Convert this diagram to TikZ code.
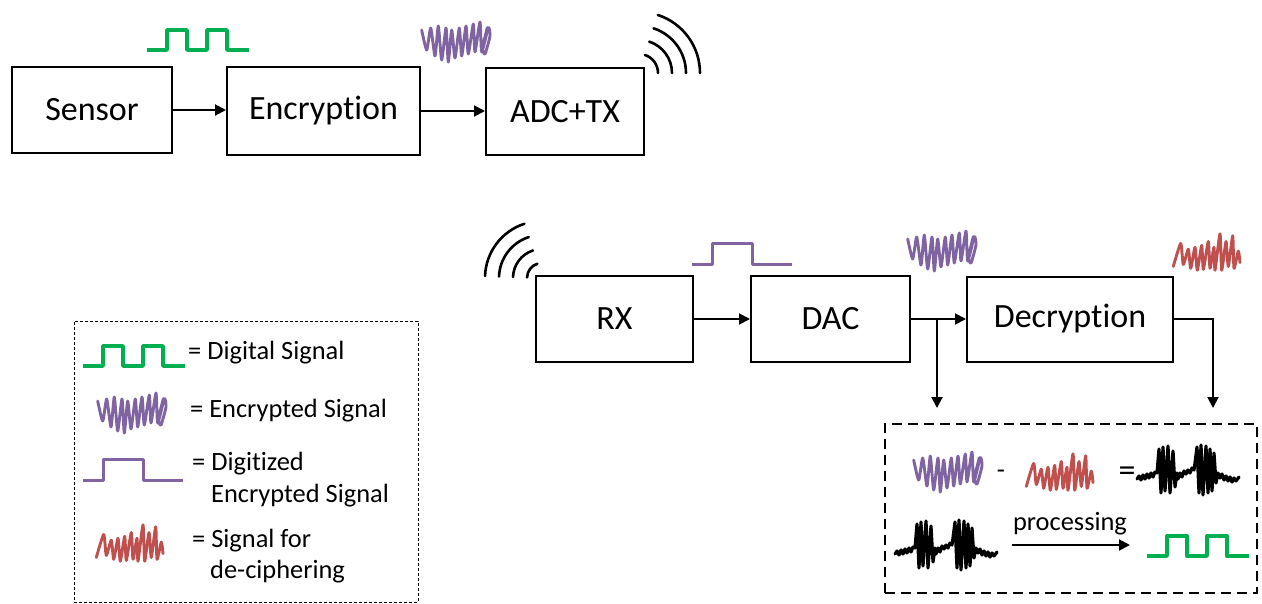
\documentclass[tikz,border=0pt]{standalone}
\usepackage{fontspec}
\setmainfont[Ligatures={NoCommon}]{Carlito}
\usetikzlibrary{arrows.meta}

\definecolor{sigGreen}{RGB}{0,176,80}
\definecolor{sigPurple}{RGB}{128,100,162}
\definecolor{sigRed}{RGB}{192,80,77}

\tikzset{
  blk/.style={draw, line width=2pt, inner sep=0pt, font=\fontsize{34}{40}\selectfont},
  conn/.style={line width=2pt, -{Triangle[length=11pt,width=11pt]}},
  lbl/.style={inner sep=0pt, anchor=base west, font=\fontsize{26.4}{30}\selectfont},
  radio/.style={line width=2.6pt, line cap=round},
  scrib/.style={line width=2.9pt, line cap=round, line join=round},
  % square-wave digital signal
  digsig/.pic={
    \draw[sigGreen, line width=3.4pt, line join=round]
      (0,20) -- (20,20) -- (20,0) -- (40,0) -- (40,20) -- (60,20)
      -- (60,0) -- (80,0) -- (80,20) -- (102,20);
  },
  % digitized encrypted signal
  digenc/.pic={
    \draw[sigPurple, line width=3pt, line join=round]
      (0,21) -- (20,21) -- (20,0) -- (60,0) -- (60,21) -- (100,21);
  },
  % encrypted signal scribble
  encsig/.pic={
    \draw[sigPurple, scrib, yscale=1.2] plot[smooth, tension=0.35] coordinates {
      (1.7,10) (6.7,26.7) (10.7,8.3) (15,31.7) (18.3,6.7) (21.7,35)
      (26,8.3) (28.3,36.7) (31.7,10) (35,33.3) (39.3,8.3) (41.7,31.7)
      (46,6.7) (48.3,30) (53.3,5) (55,28.3) (60,3.3) (61.7,28.3)
      (68.3,8) (70,15) (65,30) (62.5,25) (67.3,8)};
  },
  % signal used for deciphering
  keysig/.pic={
    \draw[sigRed, scrib, yscale=1.15] plot[smooth, tension=0.35] coordinates {
      (1.3,31.7) (8.7,11.7) (11.3,30) (16.3,16.7) (18.7,33.3) (23,15)
      (25.3,35) (29.7,13.3) (31.3,34.3) (36.3,10) (38,33.3) (42,15)
      (43,35) (48,3.3) (49.7,35) (54,10) (56.3,31.7) (60.7,5)
      (62,33.3) (66.3,18.3) (68,28.3)};
  },
  % recovered noisy signal: noise with two bursts
  rawsig/.pic={
    \draw[black, line width=3.2pt, line cap=round, line join=round] plot coordinates {
      (0,36) (2,33) (4,37) (6,32) (8,36) (10,31) (12,35) (14,30) (16,34)
      (18,29) (20,30)
      (22,6) (24,50) (26,4) (28,48) (31,3) (33,50) (36,8) (38,44) (40,30) (41,36)
      (43,30) (45,34) (47,28) (49,31) (51,27) (53,30) (55,25) (57,27)
      (58,20) (60,4) (62,50) (64,2) (66,52) (69,3) (71,50) (73,6) (75,48)
      (77,10) (79,40) (81,30)
      (83,35) (85,31) (87,37) (89,33) (91,38) (93,34) (95,39) (97,35)
      (99,38) (102,34)};
  }
}

\begin{document}
\begin{tikzpicture}[x=1pt,y=-1pt]
\useasboundingbox (0,0) rectangle (1262,603);

% ---------- transmitter chain ----------
\node[blk, minimum width=160pt, minimum height=86pt] (sensor) at (92,110) {Sensor};
\node[blk, minimum width=193pt, minimum height=88pt] (enc) at (323.5,111) {Encryption};
\node[blk, minimum width=158pt, minimum height=87pt] (adc) at (565,111.5) {ADC+TX};

\draw[conn] (sensor.east) -- (sensor.east -| enc.west);
\draw[conn] (enc.east) -- (enc.east -| adc.west);

\pic at (147,30) {digsig};
\pic at (420,18) {encsig};

% antenna waves of the transmitter
\coordinate (txc) at (639,73);
\foreach \r in {19,33,47,61}
  \draw[radio] ([shift={(-72:\r)}]txc) arc[start angle=-72, end angle=0, radius=\r];

% ---------- receiver chain ----------
\node[blk, minimum width=157pt, minimum height=86pt] (rx) at (614.5,319) {RX};
\node[blk, minimum width=159pt, minimum height=86pt] (dac) at (830.5,319) {DAC};
\node[blk, minimum width=206pt, minimum height=85pt] (dec) at (1070,319) {Decryption};

\draw[conn] (rx.east) -- (dac.west);
\draw[conn] (dac.east) -- (dec.west);

\coordinate (split) at (937,319);
\coordinate (down1) at (937,408);
\coordinate (down2) at (1213,408);
\draw[conn] (split) -- (down1);
\draw[conn] (dec.east) -| (down2);

\pic at (692,243) {digenc};
\pic at (906,227) {encsig};
\pic at (1172,230) {keysig};

% antenna waves of the receiver
\coordinate (rxc) at (542,278);
\foreach \r in {15,29,43,57}
  \draw[radio] ([shift={(-178:\r)}]rxc) arc[start angle=-178, end angle=-108, radius=\r];

% ---------- decryption detail ----------
\node[draw, line width=2.6pt, dash pattern=on 10pt off 6pt, minimum width=372pt,
      minimum height=169pt] (detail) at (1071,508.5) {};
\pic at (912,448) {encsig};
\node[inner sep=0pt, font=\fontsize{26.4}{30}\selectfont] (minus) at (1001,474) {-};
\pic at (1025,450) {keysig};
\node[inner sep=0pt, font=\fontsize{34}{40}\selectfont] (equals) at (1127,474) {=};
\pic at (1137,443) {rawsig};
\pic at (895,518) {rawsig};
\coordinate (pa) at (1012,545);
\coordinate (pb) at (1130,545);
\draw[conn] (pa) -- (pb);
\node[lbl, anchor=base] (proc) at (1070,530) {processing};
\pic at (1147,536) {digsig};

% ---------- legend ----------
\node[draw, line width=1pt, dash pattern=on 3pt off 2pt, minimum width=344pt,
      minimum height=281pt] (legend) at (246,461.5) {};
\pic at (83,346) {digsig};
\node[lbl] (l1) at (188,359) {= Digital Signal};
\pic at (96,389) {encsig};
\node[lbl] (l2) at (190,417) {= Encrypted Signal};
\pic at (83,459) {digenc};
\node[lbl] (l3) at (192,470) {= Digitized};
\node[lbl] (l3b) at (211,502) {Encrypted Signal};
\pic at (95,521) {keysig};
\node[lbl] (l4) at (192,547) {= Signal for};
\node[lbl] (l4b) at (210,578) {de-ciphering};
\end{tikzpicture}
\end{document}
